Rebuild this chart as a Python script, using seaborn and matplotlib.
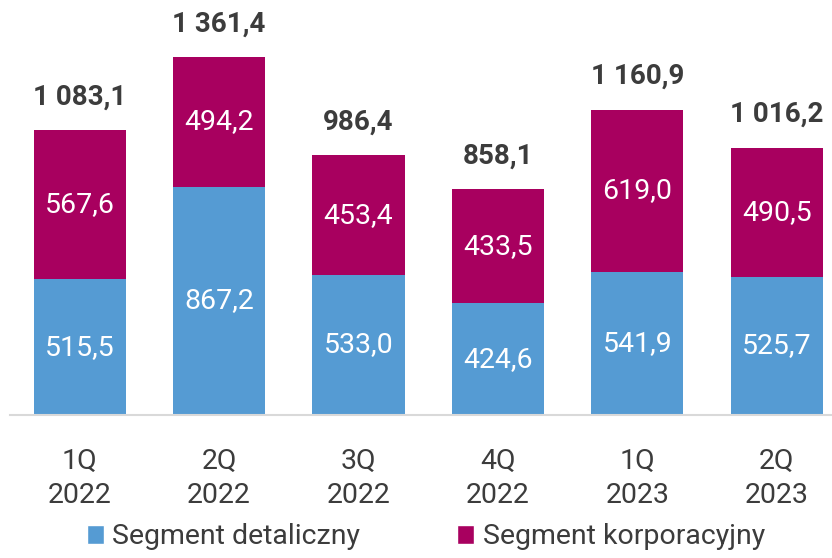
import matplotlib
matplotlib.use("Agg")
import matplotlib.pyplot as plt
import seaborn as sns
import pandas as pd
from matplotlib.patches import Patch

categories = ["1Q\n2022", "2Q\n2022", "3Q\n2022", "4Q\n2022", "1Q\n2023", "2Q\n2023"]
retail = [515.5, 867.2, 533.0, 424.6, 541.9, 525.7]
corporate = [567.6, 494.2, 453.4, 433.5, 619.0, 490.5]
series_names = ["Segment detaliczny", "Segment korporacyjny"]

BLUE = "#559BD3"
MAGENTA = "#A8005F"
TEXT = "#3C3C3C"

sns.set_theme(style="white")
plt.rcParams["font.family"] = ["Roboto", "DejaVu Sans"]

totals = [r + c for r, c in zip(retail, corporate)]
df = pd.DataFrame({"cat": categories, "retail": retail, "corporate": corporate, "total": totals})


def fmt(v):
    s = f"{v:,.1f}"
    return s.replace(",", " ").replace(".", ",")


fig = plt.figure(figsize=(8.32, 5.58), dpi=100)
ax = fig.add_axes([10 / 832, 143 / 558, 822 / 832, 415 / 558])

sns.barplot(data=df, x="cat", y="total", color=MAGENTA, width=0.66, saturation=1,
            linewidth=0, ax=ax)
sns.barplot(data=df, x="cat", y="retail", color=BLUE, width=0.66, saturation=1,
            linewidth=0, ax=ax)

px_per_unit = 0.2631
ax.set_ylim(0, 415 / px_per_unit)
ax.set_xlim(-0.5, -0.5 + 822 / 139.4)

for i, (r, c, t) in enumerate(zip(retail, corporate, totals)):
    ax.text(i, r / 2, fmt(r), ha="center", va="center", color="white", fontsize=20.5)
    ax.text(i, r + c / 2, fmt(c), ha="center", va="center", color="white", fontsize=20.5)
    ax.text(i, t + 33 / px_per_unit, fmt(t), ha="center", va="center", color=TEXT,
            fontsize=20, fontweight="bold")

ax.set_xlabel("")
ax.set_ylabel("")
ax.set_yticks([])
ax.tick_params(axis="x", length=0, pad=24, labelsize=20.5, labelcolor=TEXT)
for lbl in ax.get_xticklabels():
    lbl.set_linespacing(1.3)
for s in ["top", "right", "left"]:
    ax.spines[s].set_visible(False)
ax.spines["bottom"].set_color("#D9D9D9")
ax.spines["bottom"].set_linewidth(1.5)

handles = [Patch(facecolor=BLUE), Patch(facecolor=MAGENTA)]
fig.legend(handles, series_names, loc="center", bbox_to_anchor=(0.512, 21 / 558), ncol=2,
           frameon=False, fontsize=20.5, labelcolor=TEXT, handlelength=0.6, handleheight=0.6,
           handletextpad=0.3, columnspacing=3.4, borderaxespad=0, borderpad=0)

fig.savefig("out.png", dpi=100)
